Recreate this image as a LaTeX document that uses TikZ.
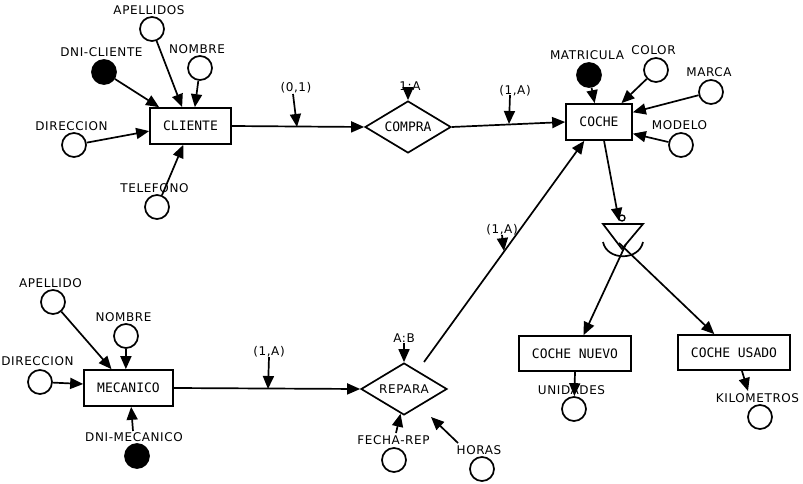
\documentclass[tikz,border=0pt]{standalone}
\usepackage{fontspec}
\usetikzlibrary{arrows.meta,shapes.geometric}
\newfontfamily\lab[LetterSpace=5]{DejaVu Sans}
\newfontfamily\mon{DejaVu Sans Mono}
\begin{document}
\begin{tikzpicture}[x=1pt,y=-1pt,
  every path/.style={line width=1.7pt},
  arr/.style={-{Triangle[length=13pt,width=11pt]}},
  attr/.style={circle,draw,line width=1.7pt,minimum size=24pt,inner sep=0pt},
  keyattr/.style={attr,fill=black},
  lbl/.style={inner sep=0pt,font=\lab\fontsize{12}{13}\selectfont},
  ent/.style={rectangle,draw,line width=1.7pt,inner sep=0pt,font=\mon\fontsize{13}{14}\selectfont},
  rel/.style={diamond,draw,line width=1.7pt,inner sep=0pt,aspect=1.65,minimum width=86pt,minimum height=52pt}]
\useasboundingbox (0,0) rectangle (803,484);

% ---------- CLIENTE ----------
\node[ent,minimum width=81pt,minimum height=36pt] (cliente) at (190.5,126) {CLIENTE};
\node[attr] (apel) at (152,29) {};
\node[lbl] at (149,10) {APELLIDOS};
\node[keyattr] (dnic) at (104,72) {};
\node[lbl] at (101.5,52) {DNI-CLIENTE};
\node[attr] (nomc) at (200,68) {};
\node[lbl] at (197,49) {NOMBRE};
\node[attr] (dirc) at (74,145) {};
\node[lbl] at (71.5,126) {DIRECCION};
\node[attr] (telc) at (157,207) {};
\node[lbl] at (154.5,188) {TELEFONO};
\draw[arr] (apel) -- (cliente.114);
\draw[arr] (nomc) -- (cliente.77);
\draw[arr] (dnic) -- (cliente.149);
\draw[arr] (dirc) -- (cliente.187);
\draw[arr] (telc) -- (cliente.249);

% ---------- COMPRA ----------
\node[rel,font=\mon\fontsize{13}{14}\selectfont] (compra) at (408,127) {COMPRA};
\draw[arr] (cliente.east) -- (compra.west);
\node[lbl] (k01) at (296,88) {(0,1)};
\coordinate (k01s) at (293,94);
\coordinate (k01e) at (297,127);
\draw[arr] (k01s) -- (k01e);
\node[lbl] (k1a) at (410,86) {1:A};
\coordinate (k1as) at (408,88);
\draw[arr] (k1as) -- (compra.north);

% ---------- COCHE ----------
\node[ent,minimum width=66pt,minimum height=36pt] (coche) at (599,122) {COCHE};
\draw[arr] (compra.east) -- (coche.west);
\node[lbl] (k1b) at (515,91) {(1,A)};
\coordinate (k1bs) at (510,95);
\coordinate (k1be) at (509,124);
\draw[arr] (k1bs) -- (k1be);
\node[keyattr] (matr) at (589,75) {};
\node[lbl] at (587,55) {MATRICULA};
\node[attr] (color) at (656,70) {};
\node[lbl] at (653.5,50) {COLOR};
\node[attr] (marca) at (711,92) {};
\node[lbl] at (709,72) {MARCA};
\node[attr] (modelo) at (681,145) {};
\node[lbl] at (679.5,125) {MODELO};
\draw[arr] (matr) -- (coche.103);
\draw[arr] (color) -- (coche.40.6);
\draw[arr] (marca) -- (coche.16.9);
\draw[arr] (modelo) -- (coche.341.6);

% ---------- ISA ----------
\coordinate (tl) at (603,224);
\coordinate (tr) at (643,224);
\coordinate (tv) at (622,249);
\draw (tl) -- (tr) -- (tv) -- cycle;
\coordinate (al) at (603,242);
\coordinate (ar) at (643,242);
\draw (al) .. controls (607,261) and (639,261) .. (ar);
\node[circle,draw,line width=1.3pt,minimum size=6pt,inner sep=0pt] (isao) at (622,218) {};
\coordinate (isain) at (619,221);
\draw[arr] (coche.285.5) -- (isain);
\node[ent,minimum width=112pt,minimum height=35pt] (cnuevo) at (575,353.5) {COCHE NUEVO};
\node[ent,minimum width=112pt,minimum height=35pt] (cusado) at (734,352.5) {COCHE USADO};
\coordinate (isal) at (626,244);
\coordinate (isar) at (619,243);
\draw[arr] (isal) -- (cnuevo.65.4);
\draw[arr] (isar) -- (cusado.137.4);
\node[attr] (unid) at (574,409) {};
\node[lbl] at (571.5,390) {UNIDADES};
\draw[arr] (cnuevo.south) -- (unid);
\node[attr] (kilo) at (760,417) {};
\node[lbl] (lkilo) at (757.5,398) {KILOMETROS};
\coordinate (cus-s) at (742,371);
\coordinate (kiloin) at (748,391);
\draw[arr] (cus-s) -- (kiloin);

% ---------- MECANICO ----------
\node[ent,minimum width=89pt,minimum height=36pt] (mec) at (128.5,388) {MECANICO};
\node[attr] (apem) at (53,302) {};
\node[lbl] at (50.5,283) {APELLIDO};
\node[attr] (nomm) at (126,336) {};
\node[lbl] at (123.5,317) {NOMBRE};
\node[attr] (dirm) at (40,382) {};
\node[lbl] at (37.5,361) {DIRECCION};
\node[keyattr] (dnim) at (137,456) {};
\node[lbl] (ldnim) at (134,437) {DNI-MECANICO};
\draw[arr] (apem) -- (mec.132.5);
\draw[arr] (nomm) -- (mec.98);
\draw[arr] (dirm) -- (mec.175);
\coordinate (dnims) at (133,431);
\draw[arr] (dnims) -- (mec.278);

% ---------- REPARA ----------
\node[rel,font=\lab\fontsize{12}{13}\selectfont] (repara) at (404,389) {REPARA};
\draw[arr] (mec.east) -- (repara.west);
\node[lbl] (k1c) at (269,352) {(1,A)};
\coordinate (k1cs) at (269,357);
\coordinate (k1ce) at (268,389);
\draw[arr] (k1cs) -- (k1ce);
\node[lbl] (kab) at (404,338) {A:B};
\coordinate (kabs) at (404,343);
\draw[arr] (kabs) -- (repara.north);
\coordinate (repout) at (424,362);
\draw[arr] (repout) -- (coche.232);
\node[lbl] (k1d) at (502,230) {(1,A)};
\coordinate (k1ds) at (502,235);
\coordinate (k1de) at (504,251);
\draw[arr] (k1ds) -- (k1de);
\node[attr] (fecha) at (394,460) {};
\node[lbl] (lfecha) at (393.5,440) {FECHA-REP};
\coordinate (fechas) at (396,433);
\draw[arr] (fechas) -- (repara.262);
\node[attr] (horas) at (482,469) {};
\node[lbl] (lhoras) at (479,450) {HORAS};
\coordinate (horass) at (458,443);
\coordinate (horase) at (431,417);
\draw[arr] (horass) -- (horase);
\end{tikzpicture}
\end{document}
